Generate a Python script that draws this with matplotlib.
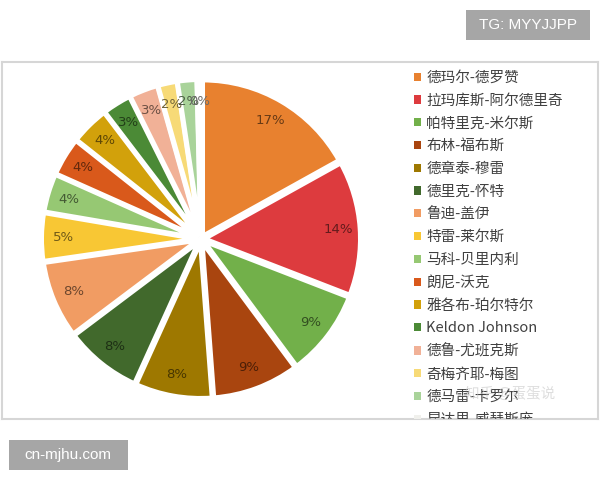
import matplotlib
matplotlib.use("Agg")
import matplotlib.pyplot as plt
from matplotlib.patches import Rectangle
import matplotlib.colors as mcolors
import numpy as np

plt.rcParams['font.family'] = ['Noto Sans CJK SC', 'DejaVu Sans']

# players, share of points (%)
players = ['德玛尔-德罗赞', '拉玛库斯-阿尔德里奇', '帕特里克-米尔斯', '布林-福布斯',
           '德章泰-穆雷', '德里克-怀特', '鲁迪-盖伊', '特雷-莱尔斯',
           '马科-贝里内利', '朗尼-沃克', '雅各布-珀尔特尔', 'Keldon Johnson',
           '德鲁-尤班克斯', '奇梅齐耶-梅图', '德马雷-卡罗尔', '昆达里-威瑟斯庞']
shares = [17, 14, 9, 9, 8, 8, 8, 5, 4, 4, 4, 3, 3, 2, 2, 0.4]
pct_labels = ['17%', '14%', '9%', '9%', '8%', '8%', '8%', '5%',
              '4%', '4%', '4%', '3%', '3%', '2%', '2%', '0%']
colors = ['#E8812F', '#DD3B3E', '#72B04A', '#A9450F', '#9E7800', '#41692C',
          '#F19C63', '#F8C734', '#96C873', '#D9591B', '#D2A10B', '#4B8A36',
          '#F1B197', '#F7DA77', '#A9D39A', '#F0F0EC']

W, H = 600, 480
fig = plt.figure(figsize=(6, 4.8), dpi=100)
fig.patch.set_facecolor('white')

# outer frame of the chart
frame = fig.add_axes([2/W, 1 - 419/H, 596/W, 357/H])
frame.set_xticks([])
frame.set_yticks([])
for s in frame.spines.values():
    s.set_color('#D6D6D6')
    s.set_linewidth(1.5)

# pie
cx, cy, r = 201, 239, 161
ax = fig.add_axes([(cx - r)/W, 1 - (cy + r)/H, 2*r/W, 2*r/H])
wedges, texts = ax.pie(shares, colors=colors, startangle=90, counterclock=False,
                       explode=[0.02]*len(shares),
                       wedgeprops=dict(edgecolor='white', linewidth=3.5))
ax.set_aspect('equal')
ax.set_xlim(-1.03, 1.03)
ax.set_ylim(-1.03, 1.03)
ax.axis('off')

for w, lab, c in zip(wedges, pct_labels, colors):
    mid = np.deg2rad((w.theta1 + w.theta2) / 2)
    rr = 0.88
    dark = tuple(v * 0.45 for v in mcolors.to_rgb(c))
    ax.text(rr*np.cos(mid), rr*np.sin(mid), lab, ha='center', va='center',
            fontsize=9.5, color=dark, family=['DejaVu Sans'])

# legend, clipped by the frame
leg = frame.legend(wedges, players, loc='upper left',
                   bbox_to_anchor=(406/596, 1 - 3/357), frameon=False,
                   fontsize=10.5, handlelength=0.5, handleheight=0.5,
                   handletextpad=0.35, labelspacing=0.6, borderaxespad=0)
for t in leg.get_texts():
    t.set_color('#404040')
    t.set_clip_on(True)
    t.set_clip_path(frame.patch)
for h in leg.legend_handles:
    h.set_linewidth(0)
    h.set_clip_on(True)
    h.set_clip_path(frame.patch)

# watermarks
fig.text(555/W, 1 - 394/H, '知乎 @蛋蛋说', fontsize=10.5, color='#C8C8C8',
         alpha=0.6, ha='right', va='center')
fig.patches.append(Rectangle((466/W, 1 - 40/H), 124/W, 30/H,
                             transform=fig.transFigure, fc='#A6A6A6', ec='none'))
fig.text(528/W, 1 - 25/H, 'TG: MYYJJPP', fontsize=11, color='white',
         ha='center', va='center', family=['Liberation Sans'])
fig.patches.append(Rectangle((9/W, 1 - 470/H), 119/W, 30/H,
                             transform=fig.transFigure, fc='#A6A6A6', ec='none'))
fig.text(68/W, 1 - 455/H, 'cn-mjhu.com', fontsize=11, color='white',
         ha='center', va='center', family=['Liberation Sans'])

fig.savefig('out.png', dpi=100)
